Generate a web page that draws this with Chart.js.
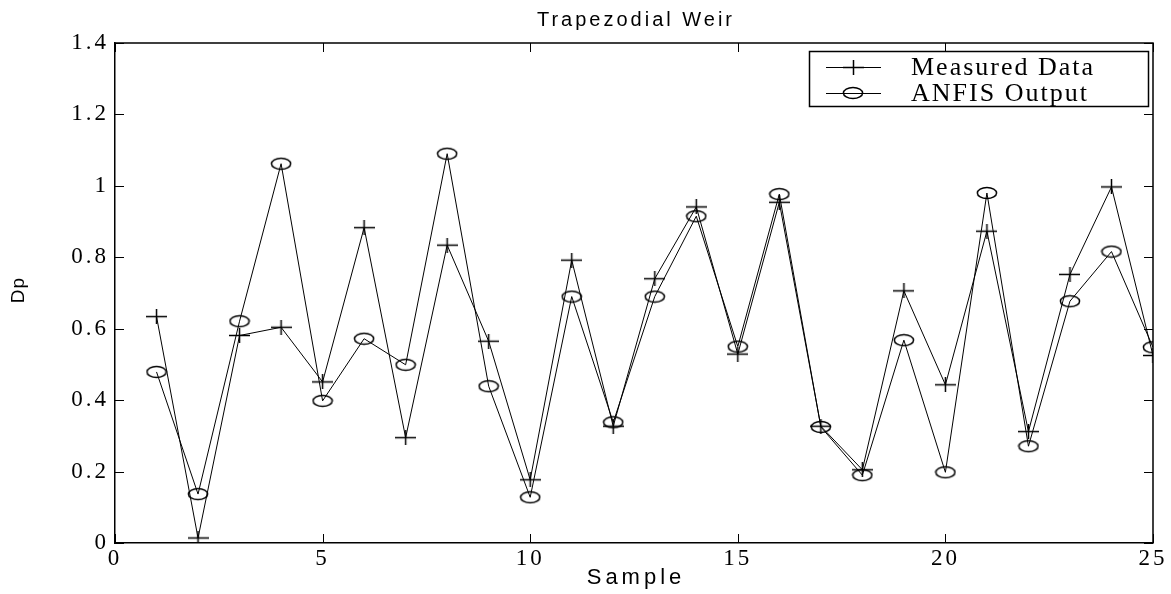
<!DOCTYPE html>
<html>
<head>
<meta charset="utf-8">
<title>Trapezodial Weir</title>
<script src="https://cdn.jsdelivr.net/npm/chart.js@4/dist/chart.umd.min.js"></script>
<style>
  html, body { margin:0; padding:0; background:#fff; }
  #wrap { width:1171px; height:594px; position:relative; }
</style>
</head>
<body>
<div id="wrap"><canvas id="weirChart"></canvas></div>
<script>
// ----------------- DATA -----------------
const samples  = [1,2,3,4,5,6,7,8,9,10,11,12,13,14,15,16,17,18,19,20,21,22,23,24,25];
const measured = [0.634,0.014,0.581,0.604,0.451,0.883,0.295,0.834,0.565,0.177,0.792,0.327,0.740,
                  0.941,0.529,0.954,0.327,0.205,0.706,0.443,0.873,0.312,0.752,0.997,0.525];
const anfis    = [0.479,0.137,0.621,1.062,0.398,0.572,0.499,1.090,0.439,0.128,0.690,0.338,0.690,
                  0.915,0.550,0.977,0.325,0.190,0.568,0.198,0.980,0.271,0.677,0.816,0.548];
const seriesNames = ['Measured Data', 'ANFIS Output'];
const titleText = 'Trapezodial Weir';
const xLabel = 'Sample';
const yLabel = 'Dp';
const xTickStep = 5, yTickStep = 0.2;
// ----------------------------------------

const SERIF = '"Liberation Serif", "Times New Roman", serif';
const SANS = '"Liberation Sans", Arial, sans-serif';

// marker images (matlab style + and o, a bit squashed like the source)
function makePlus(){
  const c = document.createElement('canvas');
  c.width = 21; c.height = 15;
  const g = c.getContext('2d');
  g.strokeStyle = '#000'; g.lineWidth = 1.5;
  g.beginPath();
  g.moveTo(0, 7.5); g.lineTo(21, 7.5);
  g.moveTo(10.5, 0); g.lineTo(10.5, 15);
  g.stroke();
  return c;
}
function makeCircle(){
  const c = document.createElement('canvas');
  c.width = 22; c.height = 14;
  const g = c.getContext('2d');
  g.strokeStyle = '#000'; g.lineWidth = 1.5;
  g.beginPath();
  g.ellipse(11, 7, 9.6, 5.6, 0, 0, Math.PI*2);
  g.stroke();
  return c;
}
const plusImg = makePlus();
const circleImg = makeCircle();

const toPts = arr => samples.map((s,i)=>({x:s, y:arr[i]}));

// box, inward ticks, legend and labels
const decorations = {
  id:'decorations',
  beforeDraw(chart){
    chart.ctx.letterSpacing = '3px';
  },
  afterDraw(chart){
    const ctx = chart.ctx;
    const a = chart.chartArea;
    const xs = chart.scales.x, ys = chart.scales.y;
    ctx.save();
    ctx.letterSpacing = '0px';
    ctx.strokeStyle = '#000';

    // top + right frame
    ctx.lineWidth = 1.5;
    ctx.beginPath();
    ctx.moveTo(a.left, a.top); ctx.lineTo(a.right, a.top); ctx.lineTo(a.right, a.bottom);
    ctx.stroke();

    // inward ticks
    ctx.lineWidth = 1;
    const tl = 9;
    ctx.beginPath();
    xs.ticks.forEach(t=>{
      const px = Math.round(xs.getPixelForValue(t.value)) + 0.5;
      ctx.moveTo(px, a.bottom); ctx.lineTo(px, a.bottom - tl);
      ctx.moveTo(px, a.top); ctx.lineTo(px, a.top + tl);
    });
    ys.ticks.forEach(t=>{
      const py = Math.round(ys.getPixelForValue(t.value)) + 0.5;
      ctx.moveTo(a.left, py); ctx.lineTo(a.left + tl, py);
      ctx.moveTo(a.right, py); ctx.lineTo(a.right - tl, py);
    });
    ctx.stroke();

    // title
    ctx.fillStyle = '#000';
    ctx.textAlign = 'center';
    ctx.textBaseline = 'middle';
    ctx.font = '20px ' + SANS;
    ctx.letterSpacing = '3px';
    ctx.fillText(titleText, (a.left + a.right)/2 + 2, 20);

    // x label
    ctx.font = '22px ' + SANS;
    ctx.letterSpacing = '4px';
    ctx.fillText(xLabel, (a.left + a.right)/2 + 2, 578);

    // y label
    ctx.letterSpacing = '1px';
    ctx.font = '19px ' + SANS;
    ctx.save();
    ctx.translate(19, (a.top + a.bottom)/2 - 3);
    ctx.rotate(-Math.PI/2);
    ctx.fillText(yLabel, 0, 0);
    ctx.restore();

    // legend
    const lx = 809, ly = 51, lw = 339, lh = 55;
    ctx.fillStyle = '#fff';
    ctx.fillRect(lx, ly, lw, lh);
    ctx.lineWidth = 1.5;
    ctx.strokeRect(lx + 0.5, ly + 0.5, lw, lh);
    const rows = [ly + 16, ly + 42];
    const imgs = [plusImg, circleImg];
    ctx.lineWidth = 1;
    ctx.letterSpacing = '2px';
    ctx.font = '26px ' + SERIF;
    ctx.textAlign = 'left';
    ctx.fillStyle = '#000';
    rows.forEach((ry, i)=>{
      ctx.beginPath();
      ctx.moveTo(826, ry + 0.5); ctx.lineTo(881, ry + 0.5);
      ctx.stroke();
      const im = imgs[i];
      ctx.drawImage(im, 853 - Math.floor(im.width/2), ry - Math.floor(im.height/2));
      ctx.fillText(seriesNames[i], 911, ry + 1);
    });
    ctx.restore();
  }
};

const tickFont = { family: SERIF, size: 23 };
const fmtTick = v => String(Math.round(v * 10) / 10);

new Chart(document.getElementById('weirChart'), {
  type:'line',
  data:{
    datasets:[
      { label: seriesNames[0], data: toPts(measured), borderColor:'#000', borderWidth:1,
        pointStyle: plusImg, pointRadius:8, tension:0, fill:false },
      { label: seriesNames[1], data: toPts(anfis), borderColor:'#000', borderWidth:1,
        pointStyle: circleImg, pointRadius:8, tension:0, fill:false }
    ]
  },
  options:{
    responsive:true,
    maintainAspectRatio:false,
    animation:false,
    layout:{ padding:{ top:43, right:18, left:0, bottom:0 } },
    plugins:{ legend:{display:false}, title:{display:false}, tooltip:{enabled:false} },
    scales:{
      x:{
        type:'linear', min:0, max:25,
        ticks:{ stepSize:xTickStep, font:tickFont, color:'#000', padding:2, maxRotation:0, callback:fmtTick },
        grid:{ display:false, drawTicks:false },
        border:{ display:true, color:'#000', width:1.5 },
        afterFit(s){ s.height = 51; }
      },
      y:{
        min:0, max:1.4,
        ticks:{ stepSize:yTickStep, font:tickFont, color:'#000', padding:6, callback:fmtTick },
        grid:{ display:false, drawTicks:false },
        border:{ display:true, color:'#000', width:1.5 },
        afterFit(s){ s.width = 115; }
      }
    }
  },
  plugins:[decorations]
});
</script>
</body>
</html>
